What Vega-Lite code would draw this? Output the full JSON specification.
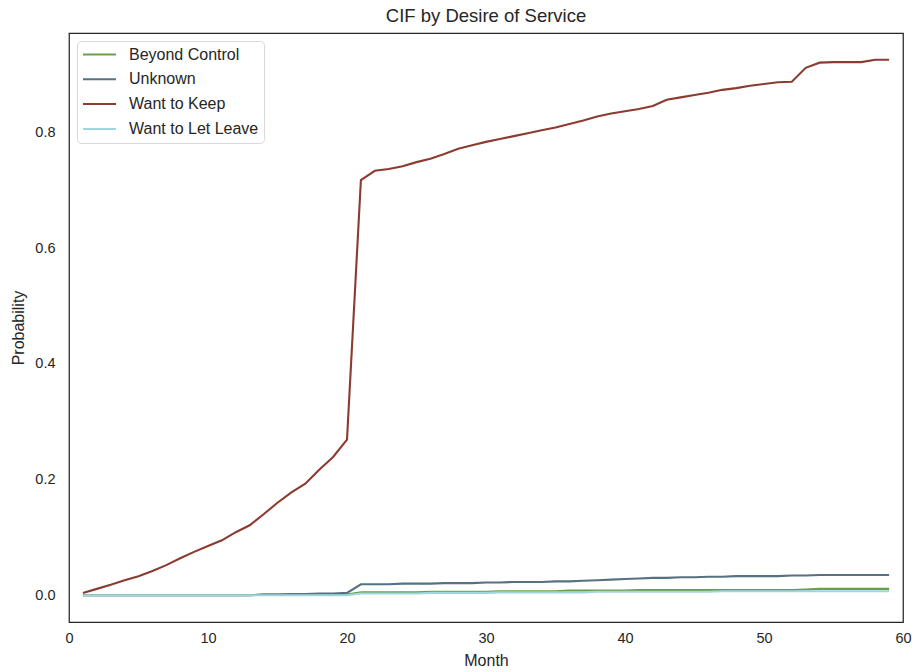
{
  "$schema": "https://vega.github.io/schema/vega-lite/v6.json",
  "width": 834,
  "height": 589,
  "autosize": "none",
  "padding": {"left": 69, "top": 33, "right": 9, "bottom": 50},
  "background": "white",
  "config": {
    "font": "Liberation Sans",
    "view": {"stroke": "#262626", "strokeWidth": 1.25},
    "axis": {
      "domain": false,
      "grid": false,
      "ticks": false,
      "labelFont": "Liberation Sans",
      "labelFontSize": 14.5,
      "labelColor": "#262626",
      "titleFont": "Liberation Sans",
      "titleFontSize": 16,
      "titleFontWeight": "normal",
      "titleColor": "#262626"
    }
  },
  "title": {
    "text": "CIF by Desire of Service",
    "font": "Liberation Sans",
    "fontSize": 18.5,
    "fontWeight": "normal",
    "color": "#262626",
    "offset": 8
  },
  "data": {
    "values": [
      {"Month": 1, "Beyond Control": 0.000, "Unknown": 0.000, "Want to Keep": 0.004, "Want to Let Leave": 0.000},
      {"Month": 2, "Beyond Control": 0.000, "Unknown": 0.000, "Want to Keep": 0.011, "Want to Let Leave": 0.000},
      {"Month": 3, "Beyond Control": 0.000, "Unknown": 0.000, "Want to Keep": 0.018, "Want to Let Leave": 0.000},
      {"Month": 4, "Beyond Control": 0.000, "Unknown": 0.000, "Want to Keep": 0.026, "Want to Let Leave": 0.000},
      {"Month": 5, "Beyond Control": 0.000, "Unknown": 0.000, "Want to Keep": 0.033, "Want to Let Leave": 0.000},
      {"Month": 6, "Beyond Control": 0.000, "Unknown": 0.000, "Want to Keep": 0.042, "Want to Let Leave": 0.000},
      {"Month": 7, "Beyond Control": 0.000, "Unknown": 0.000, "Want to Keep": 0.052, "Want to Let Leave": 0.000},
      {"Month": 8, "Beyond Control": 0.000, "Unknown": 0.000, "Want to Keep": 0.064, "Want to Let Leave": 0.000},
      {"Month": 9, "Beyond Control": 0.000, "Unknown": 0.000, "Want to Keep": 0.075, "Want to Let Leave": 0.000},
      {"Month": 10, "Beyond Control": 0.000, "Unknown": 0.000, "Want to Keep": 0.085, "Want to Let Leave": 0.000},
      {"Month": 11, "Beyond Control": 0.000, "Unknown": 0.000, "Want to Keep": 0.095, "Want to Let Leave": 0.000},
      {"Month": 12, "Beyond Control": 0.000, "Unknown": 0.000, "Want to Keep": 0.109, "Want to Let Leave": 0.000},
      {"Month": 13, "Beyond Control": 0.000, "Unknown": 0.000, "Want to Keep": 0.121, "Want to Let Leave": 0.000},
      {"Month": 14, "Beyond Control": 0.001, "Unknown": 0.001, "Want to Keep": 0.140, "Want to Let Leave": 0.000},
      {"Month": 15, "Beyond Control": 0.001, "Unknown": 0.001, "Want to Keep": 0.160, "Want to Let Leave": 0.000},
      {"Month": 16, "Beyond Control": 0.001, "Unknown": 0.002, "Want to Keep": 0.178, "Want to Let Leave": 0.000},
      {"Month": 17, "Beyond Control": 0.001, "Unknown": 0.002, "Want to Keep": 0.193, "Want to Let Leave": 0.000},
      {"Month": 18, "Beyond Control": 0.001, "Unknown": 0.003, "Want to Keep": 0.217, "Want to Let Leave": 0.000},
      {"Month": 19, "Beyond Control": 0.001, "Unknown": 0.003, "Want to Keep": 0.239, "Want to Let Leave": 0.000},
      {"Month": 20, "Beyond Control": 0.001, "Unknown": 0.004, "Want to Keep": 0.269, "Want to Let Leave": 0.000},
      {"Month": 21, "Beyond Control": 0.005, "Unknown": 0.019, "Want to Keep": 0.718, "Want to Let Leave": 0.003},
      {"Month": 22, "Beyond Control": 0.005, "Unknown": 0.019, "Want to Keep": 0.734, "Want to Let Leave": 0.003},
      {"Month": 23, "Beyond Control": 0.005, "Unknown": 0.019, "Want to Keep": 0.737, "Want to Let Leave": 0.003},
      {"Month": 24, "Beyond Control": 0.005, "Unknown": 0.020, "Want to Keep": 0.742, "Want to Let Leave": 0.003},
      {"Month": 25, "Beyond Control": 0.005, "Unknown": 0.020, "Want to Keep": 0.749, "Want to Let Leave": 0.003},
      {"Month": 26, "Beyond Control": 0.006, "Unknown": 0.020, "Want to Keep": 0.755, "Want to Let Leave": 0.004},
      {"Month": 27, "Beyond Control": 0.006, "Unknown": 0.021, "Want to Keep": 0.763, "Want to Let Leave": 0.004},
      {"Month": 28, "Beyond Control": 0.006, "Unknown": 0.021, "Want to Keep": 0.772, "Want to Let Leave": 0.004},
      {"Month": 29, "Beyond Control": 0.006, "Unknown": 0.021, "Want to Keep": 0.778, "Want to Let Leave": 0.004},
      {"Month": 30, "Beyond Control": 0.006, "Unknown": 0.022, "Want to Keep": 0.784, "Want to Let Leave": 0.004},
      {"Month": 31, "Beyond Control": 0.007, "Unknown": 0.022, "Want to Keep": 0.789, "Want to Let Leave": 0.005},
      {"Month": 32, "Beyond Control": 0.007, "Unknown": 0.023, "Want to Keep": 0.794, "Want to Let Leave": 0.005},
      {"Month": 33, "Beyond Control": 0.007, "Unknown": 0.023, "Want to Keep": 0.799, "Want to Let Leave": 0.005},
      {"Month": 34, "Beyond Control": 0.007, "Unknown": 0.023, "Want to Keep": 0.804, "Want to Let Leave": 0.005},
      {"Month": 35, "Beyond Control": 0.007, "Unknown": 0.024, "Want to Keep": 0.809, "Want to Let Leave": 0.005},
      {"Month": 36, "Beyond Control": 0.008, "Unknown": 0.024, "Want to Keep": 0.815, "Want to Let Leave": 0.005},
      {"Month": 37, "Beyond Control": 0.008, "Unknown": 0.025, "Want to Keep": 0.821, "Want to Let Leave": 0.005},
      {"Month": 38, "Beyond Control": 0.008, "Unknown": 0.026, "Want to Keep": 0.828, "Want to Let Leave": 0.006},
      {"Month": 39, "Beyond Control": 0.008, "Unknown": 0.027, "Want to Keep": 0.833, "Want to Let Leave": 0.006},
      {"Month": 40, "Beyond Control": 0.008, "Unknown": 0.028, "Want to Keep": 0.837, "Want to Let Leave": 0.006},
      {"Month": 41, "Beyond Control": 0.009, "Unknown": 0.029, "Want to Keep": 0.841, "Want to Let Leave": 0.006},
      {"Month": 42, "Beyond Control": 0.009, "Unknown": 0.030, "Want to Keep": 0.846, "Want to Let Leave": 0.006},
      {"Month": 43, "Beyond Control": 0.009, "Unknown": 0.030, "Want to Keep": 0.857, "Want to Let Leave": 0.006},
      {"Month": 44, "Beyond Control": 0.009, "Unknown": 0.031, "Want to Keep": 0.861, "Want to Let Leave": 0.006},
      {"Month": 45, "Beyond Control": 0.009, "Unknown": 0.031, "Want to Keep": 0.865, "Want to Let Leave": 0.006},
      {"Month": 46, "Beyond Control": 0.009, "Unknown": 0.032, "Want to Keep": 0.869, "Want to Let Leave": 0.006},
      {"Month": 47, "Beyond Control": 0.009, "Unknown": 0.032, "Want to Keep": 0.874, "Want to Let Leave": 0.007},
      {"Month": 48, "Beyond Control": 0.009, "Unknown": 0.033, "Want to Keep": 0.877, "Want to Let Leave": 0.007},
      {"Month": 49, "Beyond Control": 0.009, "Unknown": 0.033, "Want to Keep": 0.881, "Want to Let Leave": 0.007},
      {"Month": 50, "Beyond Control": 0.009, "Unknown": 0.033, "Want to Keep": 0.884, "Want to Let Leave": 0.007},
      {"Month": 51, "Beyond Control": 0.009, "Unknown": 0.033, "Want to Keep": 0.887, "Want to Let Leave": 0.007},
      {"Month": 52, "Beyond Control": 0.009, "Unknown": 0.034, "Want to Keep": 0.888, "Want to Let Leave": 0.007},
      {"Month": 53, "Beyond Control": 0.010, "Unknown": 0.034, "Want to Keep": 0.912, "Want to Let Leave": 0.007},
      {"Month": 54, "Beyond Control": 0.011, "Unknown": 0.035, "Want to Keep": 0.921, "Want to Let Leave": 0.007},
      {"Month": 55, "Beyond Control": 0.011, "Unknown": 0.035, "Want to Keep": 0.922, "Want to Let Leave": 0.007},
      {"Month": 56, "Beyond Control": 0.011, "Unknown": 0.035, "Want to Keep": 0.922, "Want to Let Leave": 0.007},
      {"Month": 57, "Beyond Control": 0.011, "Unknown": 0.035, "Want to Keep": 0.922, "Want to Let Leave": 0.007},
      {"Month": 58, "Beyond Control": 0.011, "Unknown": 0.035, "Want to Keep": 0.926, "Want to Let Leave": 0.007},
      {"Month": 59, "Beyond Control": 0.011, "Unknown": 0.035, "Want to Keep": 0.926, "Want to Let Leave": 0.007}
    ]
  },
  "transform": [
    {"fold": ["Beyond Control", "Unknown", "Want to Keep", "Want to Let Leave"], "as": ["Desire", "Probability"]}
  ],
  "mark": {"type": "line", "strokeWidth": 2.1, "clip": true},
  "encoding": {
    "x": {
      "field": "Month",
      "type": "quantitative",
      "scale": {"domain": [0, 60], "nice": false, "zero": false},
      "axis": {"values": [0, 10, 20, 30, 40, 50, 60], "format": "d", "labelPadding": 9, "titlePadding": 8, "labelFlush": false}
    },
    "y": {
      "field": "Probability",
      "type": "quantitative",
      "scale": {"domain": [-0.0463, 0.9723], "nice": false, "zero": false},
      "axis": {"values": [0, 0.2, 0.4, 0.6, 0.8], "format": ".1f", "labelPadding": 14, "titlePadding": 8}
    },
    "color": {
      "field": "Desire",
      "type": "nominal",
      "scale": {
        "domain": ["Beyond Control", "Unknown", "Want to Keep", "Want to Let Leave"],
        "range": ["#6a9e4f", "#56717f", "#8c3b30", "#9fd6df"]
      },
      "legend": {
        "title": null,
        "orient": "top-left",
        "offset": 8,
        "symbolType": "stroke",
        "symbolSize": 1089,
        "symbolStrokeWidth": 2,
        "clipHeight": 17,
        "labelFont": "Liberation Sans",
        "labelFontSize": 16,
        "labelColor": "#262626",
        "labelOffset": 12,
        "rowPadding": 7.8,
        "padding": 5,
        "fillColor": "white",
        "strokeColor": "#d9d9d9",
        "cornerRadius": 4
      }
    }
  }
}
